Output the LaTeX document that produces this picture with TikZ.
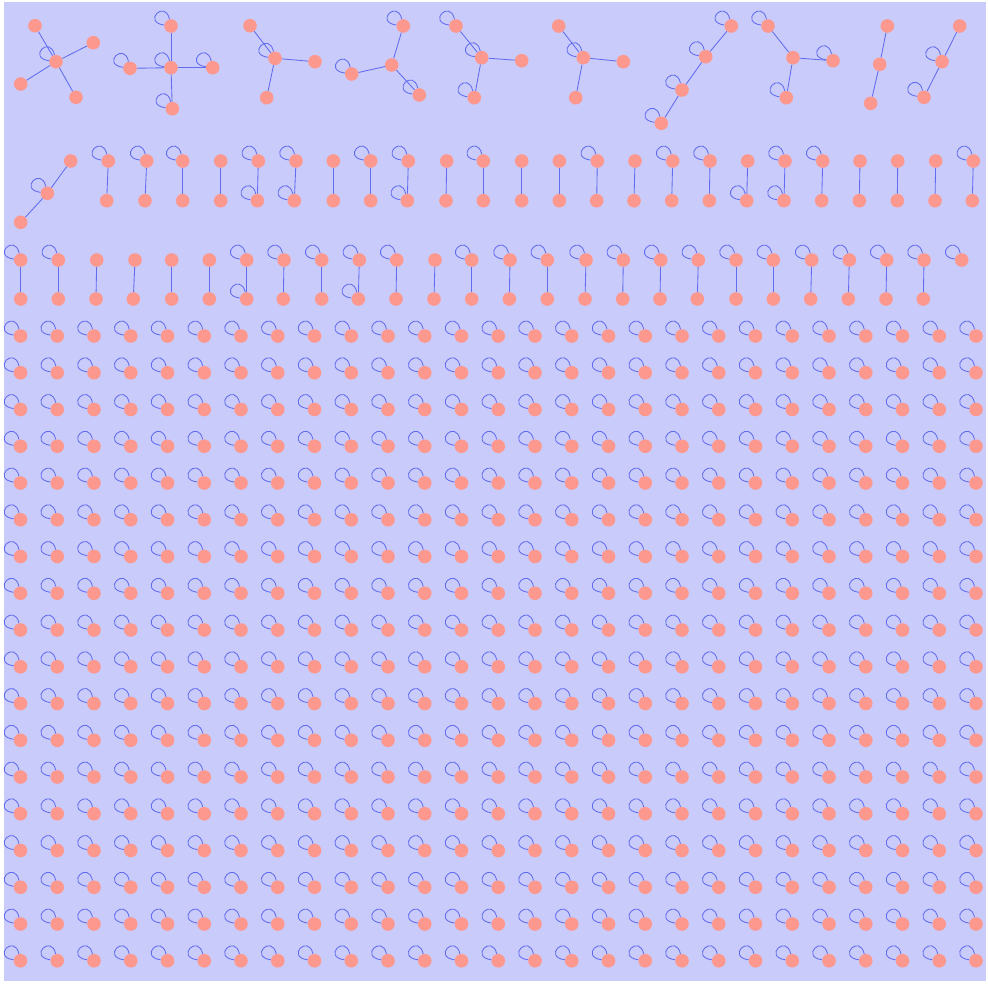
\documentclass[tikz,border=0pt]{standalone}
\usetikzlibrary{calc}
\definecolor{bgc}{RGB}{201,203,251}
\definecolor{vxc}{RGB}{253,152,142}
\definecolor{edc}{RGB}{98,108,238}
\tikzset{
  vx/.style={circle,fill=vxc,draw=none,minimum size=13.6pt,inner sep=0pt},
  ed/.style={draw=edc,line width=0.85pt},
  lp/.style={draw=edc,line width=0.85pt},
}
\newcommand\selfloop[1]{\draw[lp] (#1) .. controls ($(#1)+(-29,-4)$) and ($(#1)+(-6,-27)$) .. (#1);}
\begin{document}
\begin{tikzpicture}[x=1pt,y=-1pt]
\useasboundingbox (0,0) rectangle (988,983);
\fill[bgc] (4,2) rectangle (986,981);
% ---- top row components ----
% C1
\node[vx] (a1) at (56,61.7) {};
\node[vx] (a2) at (35,25.7) {};
\node[vx] (a3) at (93.3,42.7) {};
\node[vx] (a4) at (20.7,84) {};
\node[vx] (a5) at (76,97.3) {};
\foreach \n in {a2,a3,a4,a5} \draw[ed] (a1) -- (\n);
\selfloop{a1}
% C2
\node[vx] (b1) at (171,67.7) {};
\node[vx] (b2) at (171,26) {};
\node[vx] (b3) at (130,68.3) {};
\node[vx] (b4) at (212.7,67.7) {};
\node[vx] (b5) at (172.3,108.7) {};
\foreach \n in {b2,b3,b4,b5} \draw[ed] (b1) -- (\n);
\foreach \n in {b1,b2,b3,b4,b5} {\selfloop{\n}}
% C3
\node[vx] (c1) at (275,58.3) {};
\node[vx] (c2) at (250,25.7) {};
\node[vx] (c3) at (315,61.7) {};
\node[vx] (c4) at (266.7,97.7) {};
\foreach \n in {c2,c3,c4} \draw[ed] (c1) -- (\n);
\selfloop{c1}
% C4
\node[vx] (d1) at (391.7,65) {};
\node[vx] (d2) at (403.3,26) {};
\node[vx] (d3) at (351.7,74) {};
\node[vx] (d4) at (419.3,95) {};
\foreach \n in {d2,d3,d4} \draw[ed] (d1) -- (\n);
\foreach \n in {d2,d3,d4} {\selfloop{\n}}
% C5
\node[vx] (e1) at (481.7,57.7) {};
\node[vx] (e2) at (456,26) {};
\node[vx] (e3) at (521.7,60.7) {};
\node[vx] (e4) at (474.3,97.7) {};
\foreach \n in {e2,e3,e4} \draw[ed] (e1) -- (\n);
\foreach \n in {e1,e2,e4} {\selfloop{\n}}
% C6
\node[vx] (f1) at (583.3,57.7) {};
\node[vx] (f2) at (558.7,26) {};
\node[vx] (f3) at (623.3,61.7) {};
\node[vx] (f4) at (575.7,97.7) {};
\foreach \n in {f2,f3,f4} \draw[ed] (f1) -- (\n);
\selfloop{f1}
% C7
\node[vx] (h1) at (731.3,26) {};
\node[vx] (h2) at (705.7,56.7) {};
\node[vx] (h3) at (682,90) {};
\node[vx] (h4) at (661.3,123.3) {};
\draw[ed] (h1) -- (h2);
\draw[ed] (h2) -- (h3);
\draw[ed] (h3) -- (h4);
\foreach \n in {h1,h2,h3,h4} {\selfloop{\n}}
% C8
\node[vx] (i1) at (793,57.7) {};
\node[vx] (i2) at (768,26) {};
\node[vx] (i3) at (833,60.7) {};
\node[vx] (i4) at (786.3,97.7) {};
\foreach \n in {i2,i3,i4} \draw[ed] (i1) -- (\n);
\foreach \n in {i2,i3,i4} {\selfloop{\n}}
% C9
\node[vx] (j1) at (887.3,26) {};
\node[vx] (j2) at (879.7,64.3) {};
\node[vx] (j3) at (870.7,103.3) {};
\draw[ed] (j1) -- (j2);
\draw[ed] (j2) -- (j3);
% C10
\node[vx] (k1) at (959.7,26) {};
\node[vx] (k2) at (942,61.7) {};
\node[vx] (k3) at (924,97.3) {};
\draw[ed] (k1) -- (k2);
\draw[ed] (k2) -- (k3);
\selfloop{k2}
\selfloop{k3}
% ---- row 2 ----
\node[vx] (l1) at (70.7,161) {};
\node[vx] (l2) at (47.3,193.3) {};
\node[vx] (l3) at (20.7,222.3) {};
\draw[ed] (l1) -- (l2);
\draw[ed] (l2) -- (l3);
\selfloop{l2}
\foreach \xt/\xb/\lt/\lb [count=\k] in {
  108.3/106.7/1/0, 146.7/145/1/0, 182.7/182.7/1/0, 220.7/220.7/0/0,
  258.3/257.3/1/1, 296/294.3/1/1, 333.3/333.3/0/0, 370.7/370.7/1/0,
  408.3/407.3/1/1, 446.7/446/0/0, 483.3/483.3/1/0, 521.7/521.7/0/0,
  559.3/559.3/0/0, 597.3/596.7/1/0, 635/634/0/0, 672.7/671.7/1/0,
  710/709.3/1/0, 747.7/746.7/0/1, 785/784/1/1, 822.7/821.7/1/0,
  860/859.3/0/0, 897.7/897.3/0/0, 935.7/935/0/0, 973.3/972.3/1/0} {
  \node[vx] (q\k t) at (\xt,161) {};
  \node[vx] (q\k b) at (\xb,200.7) {};
  \draw[ed] (q\k t) -- (q\k b);
  \ifnum\lt=1 \selfloop{q\k t}\fi
  \ifnum\lb=1 \selfloop{q\k b}\fi
}
% ---- row 3 ----
\foreach \xt/\xb/\lt/\lb [count=\k] in {
  20.7/20.7/1/0, 58.3/58.3/1/0, 96.7/96/0/0, 135/133.3/0/0,
  171.7/171.7/0/0, 209.3/209.3/0/0, 246.7/246.7/1/1, 284/283.3/1/0,
  321.7/321.7/1/0, 359.3/358.3/1/1, 396.7/396/1/0, 435/434/0/0,
  471.7/471.7/1/0, 510/509.3/1/0, 547.3/547.3/1/0, 586/585/1/0,
  623.3/622.7/1/0, 660.7/660/1/0, 698.3/697.3/1/0, 736/736/1/0,
  773.3/773.3/1/0, 811.7/810.7/1/0, 849.3/848.3/1/0, 886.7/886/1/0,
  924/923.3/1/0} {
  \node[vx] (r\k t) at (\xt,260) {};
  \node[vx] (r\k b) at (\xb,299) {};
  \draw[ed] (r\k t) -- (r\k b);
  \ifnum\lt=1 \selfloop{r\k t}\fi
  \ifnum\lb=1 \selfloop{r\k b}\fi
}
\node[vx] (s1) at (961.7,260) {};
\selfloop{s1}
% ---- grid of single vertices with self-loops ----
\foreach \r in {0,...,17} {
  \foreach \c in {0,...,26} {
    \node[vx] (g\r-\c) at ({20.5+36.75*\c},{336+36.75*\r}) {};
    \selfloop{g\r-\c}
  }
}
\end{tikzpicture}
\end{document}
